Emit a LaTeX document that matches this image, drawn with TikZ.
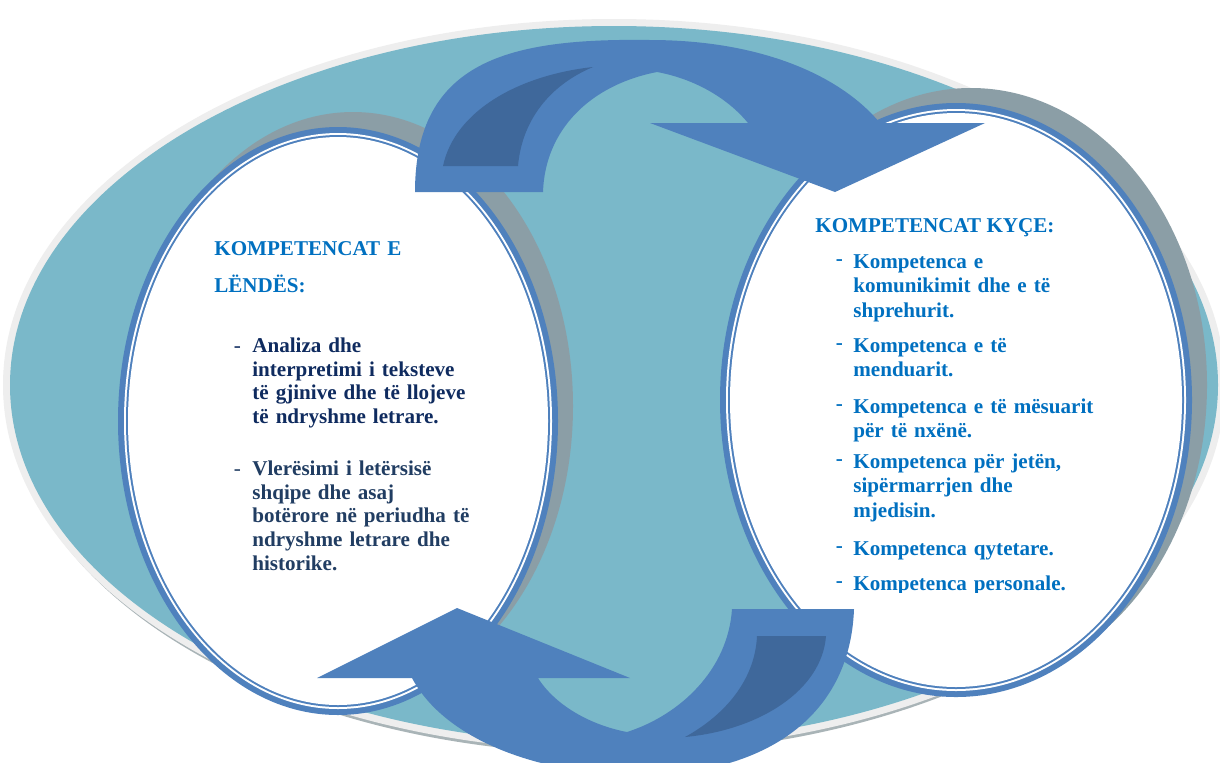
\documentclass[tikz,border=0pt]{standalone}
\usepackage{fontspec}
\setmainfont{Liberation Serif}
\definecolor{tealbg}{HTML}{7AB8C9}
\definecolor{rimgray}{HTML}{EEEEEE}
\definecolor{rimshade}{HTML}{A9B4B7}
\definecolor{shadowgray}{HTML}{8B9EA6}
\definecolor{ringblue}{HTML}{4F81BD}
\definecolor{arrowdark}{HTML}{3F689B}
\definecolor{headblue}{HTML}{0070C0}
\definecolor{navyA}{HTML}{0F2B5F}
\definecolor{navyB}{HTML}{213D62}
\newcommand\ldash{\noindent\llap{\mdseries-\hspace{6.5pt}}}
\newcommand\rdash{\noindent\llap{\raisebox{1.5pt}{-}\hspace{6pt}}}
\begin{document}
\begin{tikzpicture}[x=.02cm,y=-.02cm,every node/.style={inner sep=0pt,font=\fontsize{12}{13.5}\selectfont\bfseries},
	itemL/.style={anchor=north west,text width=170pt,align=left},
	itemR/.style={anchor=north west,text width=170pt,align=left,text=headblue,font=\fontsize{12}{14}\selectfont\bfseries}]
		\clip(0,0)rectangle(1220,762);
		\fill[white](0,0)rectangle(1220,762);
		\coordinate(O)at(614,385);
		\coordinate(L)at(338,421);
		\coordinate(R)at(956,400);
		\coordinate(Ls)at(353,406);
		\coordinate(Rs)at(971,385);
		% big ellipse
		\fill[rimshade](614,391)ellipse(606 and 363);
		\fill[rimgray](O)ellipse(611 and 366);
		\fill[tealbg](O)ellipse(604 and 359);
		% two rings
		\fill[shadowgray](Ls)ellipse(220 and 294);
		\fill[shadowgray](Rs)ellipse(236 and 297);
		\foreach\c/\d in{ringblue/0,white/6,ringblue/8,white/10}{\fill[\c](L)ellipse({220-\d} and {294-\d});
			\fill[\c](R)ellipse({236-\d} and {297-\d});}
		% top arrow
		\coordinate(T1)at(415,192);
		\coordinate(T2)at(543,192);
		\coordinate(Tn)at(650,123);
		\coordinate(Tt)at(835,192);
		\fill[ringblue](T1)..controls(415,60)and(510,38)..(650,40)..controls(760,40)and(840,75)..(880,123)--(985,123)--(Tt)--(Tn)--(748,123)..controls(725,95)and(690,78)..(657,72)..controls(590,85)and(545,130)..(T2)--cycle;
		\fill[arrowdark](443,166)..controls(455,110)and(520,75)..(593,67)..controls(550,85)and(522,120)..(518,166)--cycle;
		% bottom arrow
		\coordinate(B1)at(854,609);
		\coordinate(B2)at(732,609);
		\coordinate(Bn)at(630,678);
		\coordinate(Bt)at(457,608);
		\fill[ringblue](B1)..controls(850,720)and(760,775)..(640,775)..controls(540,775)and(445,740)..(412,678)--(317,678)--(Bt)--(Bn)--(538,678)..controls(555,705)and(590,725)..(627,732)..controls(680,715)and(728,670)..(B2)--cycle;
		\fill[arrowdark](757,636)..controls(755,680)and(725,715)..(685,737)..controls(760,730)and(822,690)..(826,636)--cycle;
		% texts
		\node[itemL,text=headblue,font=\fontsize{12}{21}\selectfont\bfseries](lhead)at(214,229.2){\strut KOMPETENCAT E\\LËNDËS:};
		\node[itemL,text=navyA](litem1)at(252,335.4){\ldash\strut Analiza dhe\\interpretimi i teksteve\\të gjinive dhe të llojeve\\të ndryshme letrare.};
		\node[itemL,text=navyB](litem2)at(252,458.4){\ldash\strut Vlerësimi i letërsisë\\shqipe dhe asaj\\botërore në periudha të\\ndryshme letrare dhe\\historike.};
		\node[anchor=base west,text=headblue](rhead)at(815,232){KOMPETENCAT KYÇE:};
		\node[itemR](ritem1)at(853,250.8){\rdash\strut Kompetenca e\\komunikimit dhe e të\\shprehurit.};
		\node[itemR](ritem2)at(853,334.8){\rdash\strut Kompetenca e të\\menduarit.};
		\node[itemR](ritem3)at(853,395.8){\rdash\strut Kompetenca e të mësuarit\\për të nxënë.};
		\node[itemR](ritem4)at(853,450.8){\rdash\strut Kompetenca për jetën,\\sipërmarrjen dhe\\mjedisin.};
		\node[itemR](ritem5)at(853,537.8){\rdash\strut Kompetenca qytetare.};
		\begin{scope}
		\clip(700,500)rectangle(1200,592);
		\node[itemR](ritem6)at(853,572.8){\rdash\strut Kompetenca personale.};
		\end{scope}
		\end{tikzpicture}
\end{document}
